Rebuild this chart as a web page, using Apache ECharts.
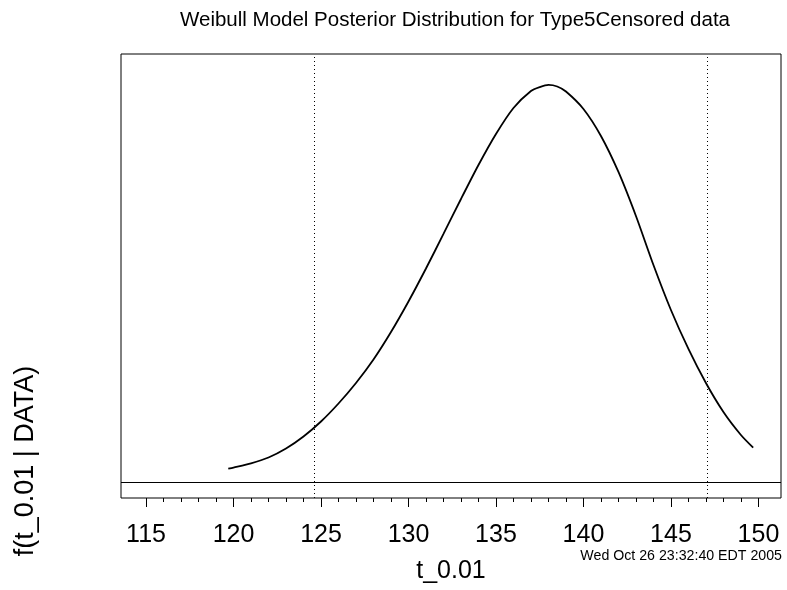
<!DOCTYPE html>
<html>
<head>
<meta charset="utf-8">
<script src="https://cdn.jsdelivr.net/npm/echarts@6/dist/echarts.min.js"></script>
<style>
  html, body { margin: 0; padding: 0; background: #ffffff; }
  #chart { width: 787px; height: 590px; }
</style>
</head>
<body>
<div id="chart"></div>
<script>
// Posterior density of t_0.01 (Weibull model, Type5Censored data)
const tValues = [119.7, 120, 121, 122, 123, 124, 125, 126, 127, 128, 129, 130, 131, 132, 133, 134,
                 135, 136, 137, 137.5, 138, 138.5, 139, 140, 141, 142, 143, 144, 145, 146, 147, 148, 149, 149.7];
const density = [0.00162, 0.00176, 0.00227, 0.00299, 0.00409, 0.00556, 0.00739, 0.00959, 0.01209, 0.01496,
                 0.01832, 0.02205, 0.02608, 0.03030, 0.03457, 0.03872, 0.04251, 0.04569, 0.04776, 0.04823,
                 0.04850, 0.04831, 0.04770, 0.04557, 0.04227, 0.03787, 0.03249, 0.02651, 0.02101, 0.01625,
                 0.01209, 0.00855, 0.00574, 0.00419];

// Interval bounds shown as dotted verticals
const intervalBounds = [124.62, 147.06];

// Axis ticks
const majorTicks = [115, 120, 125, 130, 135, 140, 145, 150];
const minorTicks = [115, 116, 117, 118, 119, 120, 121, 122, 123, 124, 125, 126, 127, 128, 129, 130, 131, 132,
                    133, 134, 135, 136, 137, 138, 139, 140, 141, 142, 143, 144, 145, 146, 147, 148, 149, 150];

const titleText = 'Weibull Model Posterior Distribution for Type5Censored data';
const xLabel = 't_0.01';
const yLabel = 'f(t_0.01 | DATA)';
const stampText = 'Wed Oct 26 23:32:40 EDT 2005';

const FONT = '"Liberation Sans", Arial, Helvetica, sans-serif';

const chart = echarts.init(document.getElementById('chart'), null, { renderer: 'canvas' });

const points = tValues.map((t, i) => [t, density[i]]);

chart.setOption({
  animation: false,
  backgroundColor: '#ffffff',
  grid: {
    left: 121, top: 54, right: 6, bottom: 92,
    show: true, borderColor: '#000', borderWidth: 1, backgroundColor: 'transparent'
  },
  xAxis: [
    {
      type: 'value',
      position: 'bottom',
      min: 113.57, max: 151.29,
      axisLine: { show: false, onZero: false },
      splitLine: { show: false },
      axisTick: { show: true, length: 9, lineStyle: { color: '#000', width: 1 }, customValues: majorTicks },
      axisLabel: {
        show: true, customValues: majorTicks, margin: 25,
        fontFamily: FONT, fontSize: 25, color: '#000'
      }
    },
    {
      type: 'value',
      position: 'bottom',
      min: 113.57, max: 151.29,
      axisLine: { show: false, onZero: false },
      splitLine: { show: false },
      axisTick: { show: true, length: 4, lineStyle: { color: '#000', width: 1 }, customValues: minorTicks },
      axisLabel: { show: false }
    }
  ],
  yAxis: {
    type: 'value',
    min: -0.001955, max: 0.05228,
    show: false,
    splitLine: { show: false }
  },
  series: [
    {
      type: 'line',
      data: points,
      showSymbol: false,
      smooth: 0.25,
      lineStyle: { color: '#000', width: 1.8 },
      silent: true,
      markLine: {
        silent: true,
        symbol: 'none',
        label: { show: false },
        animation: false,
        data: [
          { yAxis: 0, lineStyle: { color: '#000', width: 1, type: 'solid' } },
          ...intervalBounds.map(v => ({ xAxis: v, lineStyle: { color: '#000', width: 1, type: [1, 3] } }))
        ]
      }
    }
  ],
  graphic: [
    {
      type: 'text', x: 455, y: 20,
      style: { text: titleText, fontFamily: FONT, fontSize: 20.5, fill: '#000', align: 'center', verticalAlign: 'middle' }
    },
    {
      type: 'text', x: 26, y: 461, rotation: Math.PI / 2,
      style: { text: yLabel, fontFamily: FONT, fontSize: 27, fill: '#000', align: 'center', verticalAlign: 'middle' }
    },
    {
      type: 'text', x: 451, y: 571,
      style: { text: xLabel, fontFamily: FONT, fontSize: 25, fill: '#000', align: 'center', verticalAlign: 'middle' }
    },
    {
      type: 'text', x: 782, y: 556,
      style: { text: stampText, fontFamily: FONT, fontSize: 14.2, fill: '#000', align: 'right', verticalAlign: 'middle' }
    }
  ]
});
</script>
</body>
</html>
